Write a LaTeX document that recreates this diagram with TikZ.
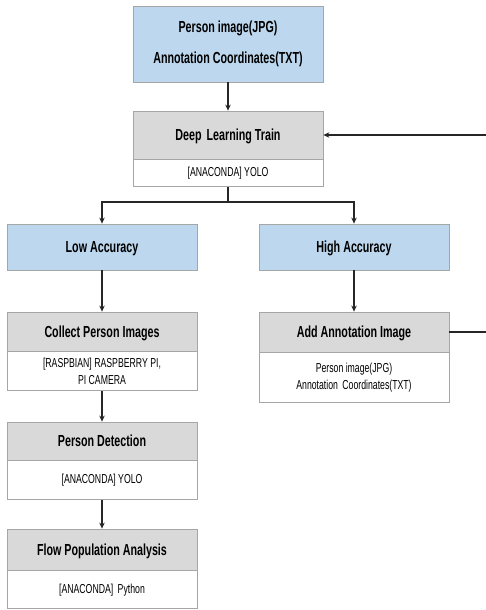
\documentclass[tikz,border=0pt]{standalone}
\usepackage{fontspec}
\setmainfont{Liberation Sans}[FakeStretch=0.67]
\usepackage{tikz}
\usetikzlibrary{arrows.meta,positioning}
\definecolor{headblue}{RGB}{189,215,238}
\definecolor{headgray}{RGB}{217,217,217}
\definecolor{edgegray}{RGB}{166,166,166}
\definecolor{linedark}{RGB}{38,38,38}

\begin{document}
\begin{tikzpicture}[x=1pt,y=-1pt,
		box/.style={draw=edgegray,line width=0.8pt,minimum width=190pt,inner sep=0pt,align=center},
		stage/.style={box,fill=headblue,font=\fontsize{16}{31}\selectfont\bfseries},
		head/.style={box,fill=headgray,font=\fontsize{16}{19}\selectfont\bfseries,text height=11.5pt,text depth=0pt},
		sub/.style={box,fill=white,font=\fontsize{13}{17}\selectfont},
		flow/.style={draw=linedark,line width=1.8pt,-{Stealth[length=6pt,width=5.5pt]}}]
				\useasboundingbox (0,0) rectangle (486,610);
				\coordinate (split) at (228,202);%branch point
				\coordinate (back) at (496,0);%return line, off the page
				
				\node[stage,minimum height=76pt] (src) at (228,44) {Person image(JPG)\\Annotation Coordinates(TXT)};
				\node[head,minimum height=48pt] (train) at (228,135) {Deep\hspace{2pt} Learning Train};
				\node[sub,minimum height=27pt,below=0pt of train] (trainsub) {[ANACONDA] YOLO};
				
				\node[stage,minimum height=46pt,text height=11.5pt,text depth=0pt] (low) at (102,247) {Low Accuracy};
				\node[stage,minimum height=46pt,text height=11.5pt,text depth=0pt] (high) at (354,247) {High Accuracy};
				
				\node[head,minimum height=39pt] (collect) at (102,331.5) {Collect Person Images};
				\node[sub,minimum height=39pt,below=0pt of collect] (collectsub) {[RASPBIAN] RASPBERRY PI,\\PI CAMERA};
				\node[head,minimum height=40pt] (addimg) at (354,332) {Add Annotation Image};
				\node[sub,minimum height=50pt,below=0pt of addimg] (addsub) {Person image(JPG)\\Annotation\hspace{2pt} Coordinates(TXT)};
				
				\node[head,minimum height=38pt] (detect) at (102,441) {Person Detection};
				\node[sub,minimum height=39pt,below=0pt of detect] (detectsub) {[ANACONDA] YOLO};
				\node[head,minimum height=41pt] (popul) at (102,549.5) {Flow Population Analysis};
				\node[sub,minimum height=38pt,below=0pt of popul] (populsub) {[ANACONDA]\hspace{2pt} Python};
				
				\draw[flow] (src) -- (train);
				\draw[flow] (trainsub.south) -- (trainsub.south |- split) -| (low.north);
				\draw[flow] (trainsub.south) -- (trainsub.south |- split) -| (high.north);
				\draw[flow] (low) -- (collect);
				\draw[flow] (high) -- (addimg);
				\draw[flow] (collectsub) -- (detect);
				\draw[flow] (detectsub) -- (popul);
				\draw[flow] (addimg.east) -- (addimg.east -| back) -- (train.east -| back) -- (train.east);
			\end{tikzpicture}
\end{document}
